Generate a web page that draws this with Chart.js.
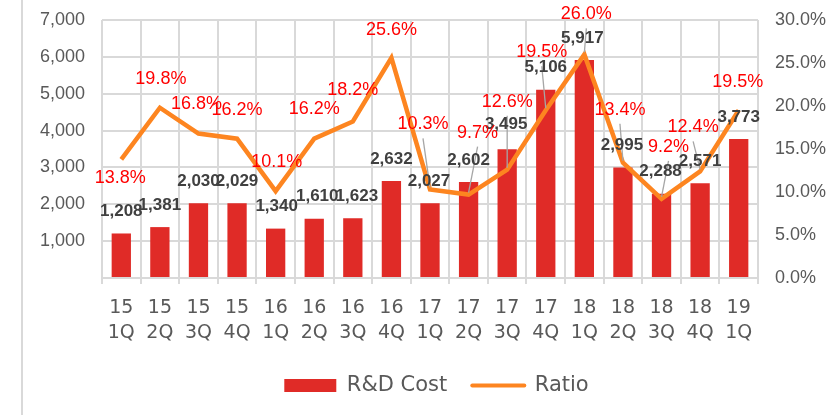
<!DOCTYPE html>
<html><head><meta charset="utf-8">
<script src="https://cdn.jsdelivr.net/npm/chart.js@4/dist/chart.umd.min.js"></script>
<style>html,body{margin:0;padding:0;background:#fff}#wrap{position:relative;width:839px;height:415px}</style>
</head><body><div id="wrap"><canvas id="c" width="839" height="415"></canvas></div>
<script>
// ---- data ----
const years = ['15','15','15','15','16','16','16','16','17','17','17','17','18','18','18','18','19'];
const quarters = ['1Q','2Q','3Q','4Q','1Q','2Q','3Q','4Q','1Q','2Q','3Q','4Q','1Q','2Q','3Q','4Q','1Q'];
const rdCost = [1208, 1381, 2030, 2029, 1340, 1610, 1623, 2632, 2027, 2602, 3495, 5106, 5917, 2995, 2288, 2571, 3773];
const ratio = [13.8, 19.8, 16.8, 16.2, 10.1, 16.2, 18.2, 25.6, 10.3, 9.7, 12.6, 19.5, 26.0, 13.4, 9.2, 12.4, 19.5];
const seriesNames = ['R&D Cost', 'Ratio'];
const costTicks = {min: 0, max: 7000, step: 1000};
const ratioTicks = {min: 0, max: 30, step: 5};

// ---- label placement (pixel nudges for annotations) ----
const barLabelNudge = [[0,-22],[0,-22],[0,-22],[0,-22],[1,-22],[3,-22],[4,-22],[0,-22],[-1,-22],[0,-22],[-1,-25],[0,-22],[-2,-22],[-1,-22],[-1,-22],[0,-22],[0,-22]];
const ratioLabelNudge = [[-1,19],[1,-29],[-2,-29],[0,-29],[1,-29],[0,-30],[0,-31],[0,-28],[-7,-65],[9,-62],[0,-68],[-4,-58],[2,-40],[-3,-53],[7,-52],[-7,-44],[-1,-28]];

const barColor = '#E02B27';
const lineColor = '#FD8520';
const gridColor = '#D9D9D9';
const tickColor = '#595959';

const labelsPlugin = {
  id: 'labels',
  afterLayout(chart) {
    const lg = chart.legend;
    if (lg) { lg.left += 17; lg.right += 17; }
  },
  beforeDraw(chart) {
    const ctx = chart.ctx;
    ctx.save();
    ctx.strokeStyle = gridColor; ctx.lineWidth = 2;
    ctx.beginPath(); ctx.moveTo(22, 0); ctx.lineTo(22, chart.height); ctx.stroke();
    ctx.restore();
  },
  afterDatasetsDraw(chart) {
    const ctx = chart.ctx;
    const barMeta = chart.getDatasetMeta(0);
    const lineMeta = chart.getDatasetMeta(1);
    ctx.save();
    ctx.textAlign = 'center';
    ctx.textBaseline = 'middle';
    ctx.strokeStyle = '#A6A6A6'; ctx.lineWidth = 1.3;
    lineMeta.data.forEach((pt, i) => {
      const [dx, dy] = ratioLabelNudge[i];
      if (dy < -35) {
        ctx.beginPath();
        ctx.moveTo(pt.x + dx, pt.y + dy + 14);
        ctx.lineTo(pt.x, pt.y - 2);
        ctx.stroke();
      }
    });
    ctx.font = 'bold 17px "Liberation Sans", Arial, sans-serif';
    ctx.fillStyle = '#404040';
    barMeta.data.forEach((bar, i) => {
      const [dx, dy] = barLabelNudge[i];
      ctx.fillText(rdCost[i].toLocaleString('en-US'), bar.x + dx, bar.y + dy);
    });
    ctx.font = '18px "Liberation Sans", Arial, sans-serif';
    ctx.fillStyle = '#FF0000';
    lineMeta.data.forEach((pt, i) => {
      const [dx, dy] = ratioLabelNudge[i];
      ctx.fillText(ratio[i].toFixed(1) + '%', pt.x + dx, pt.y + dy);
    });
    ctx.restore();
  }
};

new Chart(document.getElementById('c'), {
  type: 'bar',
  data: {
    labels: years.map((y, i) => [y, quarters[i]]),
    datasets: [
      {type: 'bar', label: seriesNames[0], data: rdCost, backgroundColor: barColor, yAxisID: 'y',
       categoryPercentage: 1, barPercentage: 0.5, order: 2},
      {type: 'line', label: seriesNames[1], data: ratio, borderColor: lineColor, backgroundColor: lineColor,
       borderWidth: 4.5, pointRadius: 0, yAxisID: 'y1', tension: 0, order: 1}
    ]
  },
  options: {
    responsive: false, animation: false, devicePixelRatio: 1,
    layout: {padding: {top: 20, left: 0, right: 0, bottom: 9}},
    plugins: {
      tooltip: {enabled: false},
      legend: {
        position: 'bottom',
        labels: {
          usePointStyle: true, pointStyleWidth: 52, boxHeight: 13, padding: 25,
          color: tickColor,
          font: {family: '"DejaVu Sans", sans-serif', size: 21},
          generateLabels: () => [
            {text: seriesNames[0], fillStyle: barColor, strokeStyle: barColor, lineWidth: 0, pointStyle: 'rect', datasetIndex: 0, hidden: false, fontColor: tickColor},
            {text: seriesNames[1], fillStyle: lineColor, strokeStyle: lineColor, lineWidth: 4, lineCap: 'round', pointStyle: 'line', datasetIndex: 1, hidden: false, fontColor: tickColor}
          ]
        }
      }
    },
    scales: {
      x: {
        offset: true,
        grid: {offset: true, color: gridColor, lineWidth: 2, tickLength: 6, drawTicks: true},
        border: {color: gridColor, width: 2},
        ticks: {color: tickColor, font: {family: '"DejaVu Sans", sans-serif', size: 19, lineHeight: 1.35},
                maxRotation: 0, autoSkip: false, padding: 11},
        afterFit: s => { s.height = 72; }
      },
      y: {
        position: 'left', min: costTicks.min, max: costTicks.max,
        grid: {color: gridColor, lineWidth: 2, drawTicks: true, tickLength: 17, tickColor: 'rgba(0,0,0,0)'},
        border: {display: false},
        ticks: {stepSize: costTicks.step, color: tickColor, padding: 0,
                font: {family: '"Liberation Sans", Arial, sans-serif', size: 18},
                callback: v => v === 0 ? '' : v.toLocaleString('en-US')},
        afterFit: s => { s.width = 102; }
      },
      y1: {
        position: 'right', min: ratioTicks.min, max: ratioTicks.max,
        grid: {drawOnChartArea: false, drawTicks: true, tickLength: 17, tickColor: 'rgba(0,0,0,0)'},
        border: {display: false},
        ticks: {stepSize: ratioTicks.step, color: tickColor, padding: 0,
                font: {family: '"Liberation Sans", Arial, sans-serif', size: 18},
                callback: v => v.toFixed(1) + '%'},
        afterFit: s => { s.width = 81; }
      }
    }
  },
  plugins: [labelsPlugin]
});
</script></body></html>
